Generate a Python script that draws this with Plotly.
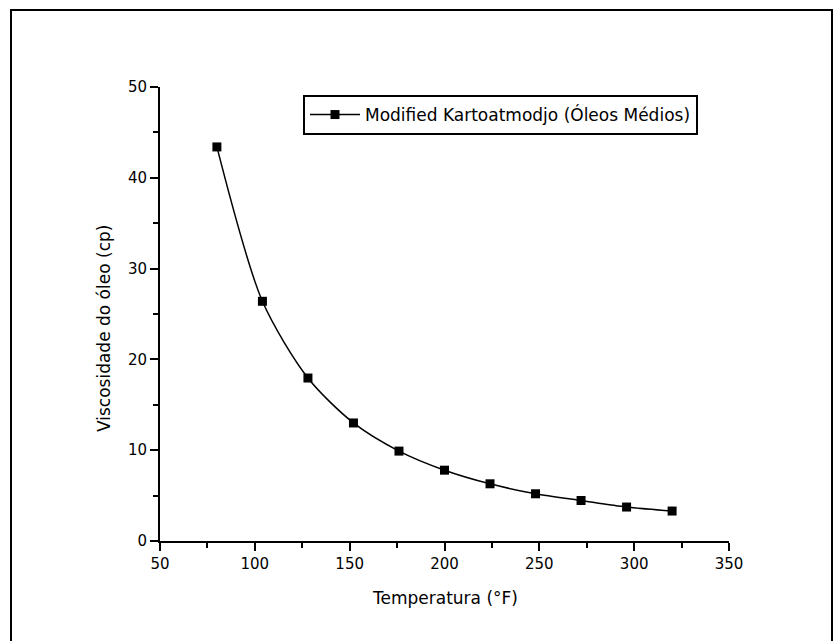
import plotly.graph_objects as go

temperatura = [80, 104, 128, 152, 176, 200, 224, 248, 272, 296, 320]
viscosidade = [43.4, 26.4, 17.95, 13.0, 9.9, 7.8, 6.3, 5.2, 4.46, 3.74, 3.3]
serie_nome = "Modified Kartoatmodjo (Óleos Médios)"
x_ticks = [50, 100, 150, 200, 250, 300, 350]
y_ticks = [0, 10, 20, 30, 40, 50]

FONT = "DejaVu Sans"

fig = go.Figure()
fig.add_trace(go.Scatter(
    x=temperatura, y=viscosidade, name=serie_nome,
    mode="lines+markers",
    line=dict(color="black", width=1.5, shape="spline", smoothing=0.8),
    marker=dict(symbol="square", size=9, color="black"),
))

W, H = 835, 641
L, R, T, B = 160, 106, 87, 100
pw, ph = W - L - R, H - T - B

def px_x(p):
    return (p - L) / pw

def px_y(p):
    return (H - B - p) / ph

axis_common = dict(
    showgrid=False, zeroline=False, showline=True, linecolor="black", linewidth=2,
    ticks="outside", ticklen=8, tickwidth=2, tickcolor="black",
    tickfont=dict(family=FONT, size=15, color="black"),
    mirror=False,
)

fig.update_xaxes(range=[50, 350], tickvals=x_ticks, **axis_common,
                 minor=dict(ticks="outside", dtick=25, ticklen=5, tickwidth=2, tickcolor="black"))
fig.update_yaxes(range=[0, 50], tickvals=y_ticks, **axis_common,
                 minor=dict(ticks="outside", dtick=5, ticklen=5, tickwidth=2, tickcolor="black"))

fig.update_layout(
    width=W, height=H,
    margin=dict(l=L, r=R, t=T, b=B, autoexpand=False),
    paper_bgcolor="white", plot_bgcolor="white",
    font=dict(family=FONT, color="black"),
    showlegend=True,
    legend=dict(
        x=px_x(303), y=px_y(95), xanchor="left", yanchor="top",
        bgcolor="white", bordercolor="black", borderwidth=2,
        font=dict(family=FONT, size=17, color="black"),
        itemwidth=50, tracegroupgap=0,
    ),
    annotations=[
        dict(text="Temperatura (°F)", xref="paper", yref="paper",
             x=px_x(445), y=px_y(598), xanchor="center", yanchor="middle",
             showarrow=False, font=dict(family=FONT, size=17, color="black")),
        dict(text="Viscosidade do óleo (cp)", xref="paper", yref="paper",
             x=px_x(104), y=px_y(329), xanchor="center", yanchor="middle",
             textangle=-90, showarrow=False,
             font=dict(family=FONT, size=17, color="black")),
    ],
    shapes=[
        dict(type="rect", xref="paper", yref="paper",
             x0=px_x(11), x1=px_x(832), y0=px_y(660), y1=px_y(10),
             line=dict(color="black", width=2), fillcolor="rgba(0,0,0,0)", layer="below"),
    ],
)

fig.write_html("out.html")
